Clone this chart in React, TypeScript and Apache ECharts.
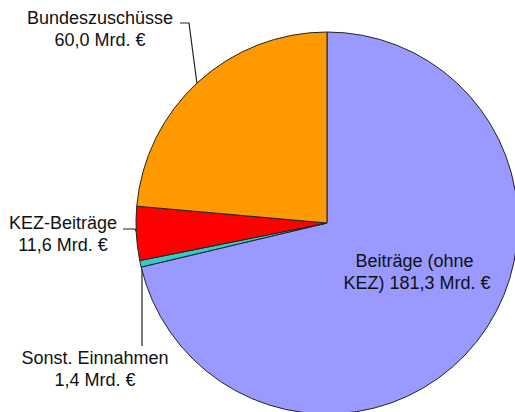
import React, { useEffect, useRef } from 'react';
import * as echarts from 'echarts';

const categories = ['Beiträge (ohne KEZ)', 'Sonst. Einnahmen', 'KEZ-Beiträge', 'Bundeszuschüsse'];
const values = [181.3, 1.4, 11.6, 60.0];
const colors = ['#9999FF', '#33CCCC', '#FF0000', '#FF9900'];
const unit = 'Mrd. €';

const labelAnchors: { x: number; y: number; line: number[][] | null }[] = [
  { x: 417, y: 272, line: null },
  { x: 95, y: 369, line: [[142, 266], [142, 346]] },
  { x: 63, y: 234, line: [[138, 235], [135, 229], [123, 229]] },
  { x: 100, y: 29, line: [[197, 84], [189, 23], [180, 23]] },
];

const fmt = (v: number) => v.toFixed(1).replace('.', ',');

export default function App() {
  const ref = useRef<HTMLDivElement>(null);
  useEffect(() => {
    if (!ref.current) return;
    const chart = echarts.init(ref.current, undefined, { renderer: 'svg' });
    const textStyle = {
      fontFamily: 'Liberation Sans, Arial, sans-serif',
      fontSize: 18,
      lineHeight: 22,
      color: '#111',
    };
    chart.setOption({
      animation: false,
      backgroundColor: '#ffffff',
      series: [
        {
          type: 'pie',
          center: [327, 223],
          radius: 191,
          startAngle: 90,
          clockwise: true,
          avoidLabelOverlap: false,
          itemStyle: { borderColor: '#222', borderWidth: 1 },
          label: {
            show: true,
            position: 'outside',
            align: 'center',
            ...textStyle,
            formatter: (p: any) => `${p.name}\n${fmt(p.value)} ${unit}`,
          },
          labelLine: { show: true, lineStyle: { color: '#222', width: 1.2 } },
          labelLayout: (p: any) => {
            const a = labelAnchors[p.dataIndex];
            const r: any = { x: a.x, y: a.y, align: 'center', verticalAlign: 'middle' };
            if (a.line) r.labelLinePoints = a.line;
            return r;
          },
          data: categories.map((name, i) => ({
            name,
            value: values[i],
            itemStyle: { color: colors[i] },
            ...(i === 0
              ? {
                  label: {
                    position: 'inside',
                    width: 158,
                    overflow: 'break',
                    formatter: (p: any) => `${p.name} ${fmt(p.value)} ${unit}`,
                  },
                  labelLine: { show: false },
                }
              : {}),
          })),
        },
      ],
    });
    return () => chart.dispose();
  }, []);
  return (
    <div
      ref={ref}
      style={{ position: 'fixed', left: 0, top: 0, width: 515, height: 412, background: '#fff' }}
    />
  );
}
